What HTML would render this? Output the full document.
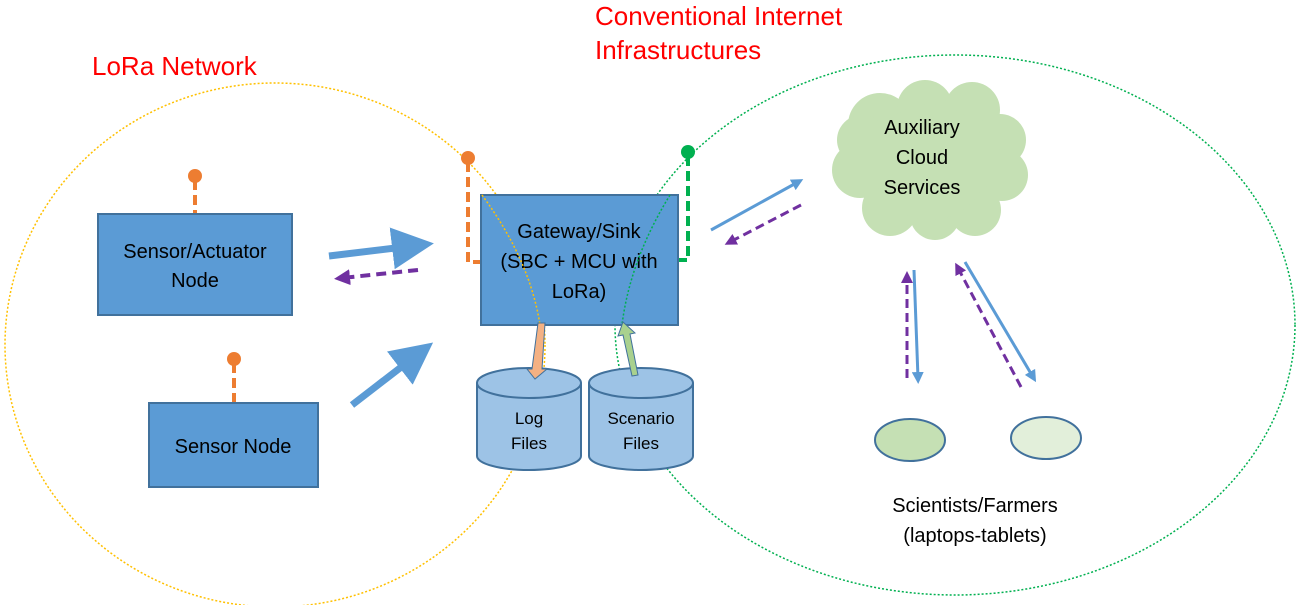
<!DOCTYPE html>
<html><head><meta charset="utf-8"><style>
body{margin:0;background:#fff;}
svg{display:block;font-family:"Liberation Sans",sans-serif;}
</style></head><body>
<svg width="1299" height="605" viewBox="0 0 1299 605">
<defs>
<marker id="bl" markerWidth="6" markerHeight="6" refX="4" refY="3" orient="auto" markerUnits="strokeWidth"><path d="M0,0 L6,3 L0,6 z" fill="#5b9bd5"/></marker>
<marker id="bls" markerWidth="4" markerHeight="4" refX="2" refY="2" orient="auto" markerUnits="strokeWidth"><path d="M0,0 L4,2 L0,4 z" fill="#5b9bd5"/></marker>
<marker id="pu" markerWidth="4" markerHeight="4" refX="2" refY="2" orient="auto" markerUnits="strokeWidth"><path d="M0,0 L4,2 L0,4 z" fill="#7030a0"/></marker>
</defs>
<ellipse cx="275" cy="345" rx="270" ry="262" fill="none" stroke="#ffc000" stroke-width="1.5" stroke-dasharray="2,2"/>
<ellipse cx="955" cy="325" rx="340" ry="270" fill="none" stroke="#00b050" stroke-width="1.5" stroke-dasharray="2,2"/>
<text x="92" y="75" font-size="26" fill="#ff0000">LoRa Network</text>
<text x="595" y="25" font-size="26" fill="#ff0000">Conventional Internet</text>
<text x="595" y="59" font-size="26" fill="#ff0000">Infrastructures</text>

<g stroke="#ed7d31" stroke-width="4" stroke-dasharray="10,5" fill="none">
<line x1="195" y1="180" x2="195" y2="213"/>
<line x1="234" y1="363" x2="234" y2="402"/>
<polyline points="468,162 468,262 481,262"/>
</g>
<circle cx="195" cy="176" r="7" fill="#ed7d31"/>
<circle cx="234" cy="359" r="7" fill="#ed7d31"/>
<circle cx="468" cy="158" r="7" fill="#ed7d31"/>
<polyline points="688,156 688,260 678,260" stroke="#00b050" stroke-width="4" stroke-dasharray="10,5" fill="none"/>
<circle cx="688" cy="152" r="7" fill="#00b050"/>

<rect x="98" y="214" width="194" height="101" fill="#5b9bd5" stroke="#41719c" stroke-width="2"/>
<text x="195" y="258" font-size="20" text-anchor="middle">Sensor/Actuator</text>
<text x="195" y="287" font-size="20" text-anchor="middle">Node</text>
<rect x="149" y="403" width="169" height="84" fill="#5b9bd5" stroke="#41719c" stroke-width="2"/>
<text x="233" y="453" font-size="20" text-anchor="middle">Sensor Node</text>
<rect x="481" y="195" width="197" height="130" fill="#5b9bd5" stroke="#41719c" stroke-width="2"/>
<text x="579" y="238" font-size="20" text-anchor="middle">Gateway/Sink</text>
<text x="579" y="268" font-size="20" text-anchor="middle">(SBC + MCU with</text>
<text x="579" y="298" font-size="20" text-anchor="middle">LoRa)</text>

<path d="M482,195 Q530,260 540,325" fill="none" stroke="#ffc000" stroke-width="1.5" stroke-dasharray="2,2"/>
<path d="M670,195 Q630,260 622,325" fill="none" stroke="#00b050" stroke-width="1.5" stroke-dasharray="2,2"/>

<g fill="#9dc3e6" stroke="#41719c" stroke-width="2">
<path d="M477,383 L477,456 A52,14 0 0 0 581,456 L581,383"/>
<ellipse cx="529" cy="383" rx="52" ry="15"/>
<path d="M589,383 L589,456 A52,14 0 0 0 693,456 L693,383"/>
<ellipse cx="641" cy="383" rx="52" ry="15"/>
</g>
<text x="529" y="424" font-size="17" text-anchor="middle">Log</text>
<text x="529" y="449" font-size="17" text-anchor="middle">Files</text>
<text x="641" y="424" font-size="17" text-anchor="middle">Scenario</text>
<text x="641" y="449" font-size="17" text-anchor="middle">Files</text>
<path d="M538,323 L545,323 L542,369 L547,369 L535,379 L527,369 L532,369 Z" fill="#f4b183" stroke="#41719c" stroke-width="1"/>
<path d="M632,376 L638,375 L630,334 L635,333 L623,322 L618,336 L623,335 Z" fill="#a9d18e" stroke="#41719c" stroke-width="1"/>

<line x1="329" y1="256" x2="420" y2="245" stroke="#5b9bd5" stroke-width="7" marker-end="url(#bl)"/>
<line x1="418" y1="270" x2="342" y2="278" stroke="#7030a0" stroke-width="4" stroke-dasharray="10,6" marker-end="url(#pu)"/>
<line x1="352" y1="405" x2="422" y2="351" stroke="#5b9bd5" stroke-width="7" marker-end="url(#bl)"/>

<line x1="711" y1="230" x2="798" y2="182" stroke="#5b9bd5" stroke-width="3" marker-end="url(#bls)"/>
<line x1="801" y1="205" x2="730" y2="242" stroke="#7030a0" stroke-width="3" stroke-dasharray="9,5" marker-end="url(#pu)"/>
<line x1="914" y1="270" x2="918" y2="378" stroke="#5b9bd5" stroke-width="3" marker-end="url(#bls)"/>
<line x1="907" y1="378" x2="907" y2="277" stroke="#7030a0" stroke-width="3" stroke-dasharray="9,5" marker-end="url(#pu)"/>
<line x1="965" y1="262" x2="1033" y2="377" stroke="#5b9bd5" stroke-width="3" marker-end="url(#bls)"/>
<line x1="1021" y1="387" x2="958" y2="268" stroke="#7030a0" stroke-width="3" stroke-dasharray="9,5" marker-end="url(#pu)"/>

<g fill="#c5e0b4">
<circle cx="880" cy="125" r="32"/>
<circle cx="925" cy="108" r="28"/>
<circle cx="972" cy="110" r="28"/>
<circle cx="1000" cy="140" r="26"/>
<circle cx="1002" cy="175" r="26"/>
<circle cx="975" cy="210" r="26"/>
<circle cx="935" cy="215" r="25"/>
<circle cx="890" cy="208" r="28"/>
<circle cx="860" cy="170" r="28"/>
<circle cx="862" cy="140" r="25"/>
<circle cx="930" cy="162" r="58"/>
</g>
<text x="922" y="134" font-size="20" text-anchor="middle">Auxiliary</text>
<text x="922" y="164" font-size="20" text-anchor="middle">Cloud</text>
<text x="922" y="194" font-size="20" text-anchor="middle">Services</text>

<ellipse cx="910" cy="440" rx="35" ry="21" fill="#c5e0b4" stroke="#41719c" stroke-width="2"/>
<ellipse cx="1046" cy="438" rx="35" ry="21" fill="#e2efda" stroke="#41719c" stroke-width="2"/>
<text x="975" y="512" font-size="20" text-anchor="middle">Scientists/Farmers</text>
<text x="975" y="542" font-size="20" text-anchor="middle">(laptops-tablets)</text>
</svg>
</body></html>
